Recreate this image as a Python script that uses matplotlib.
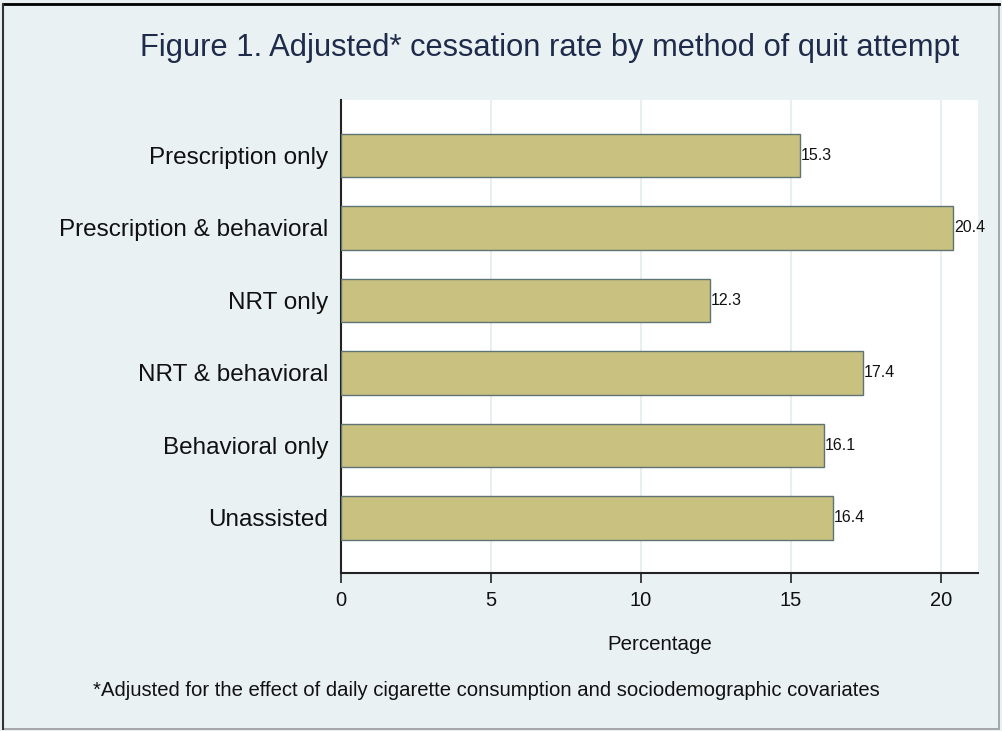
import matplotlib.pyplot as plt
from matplotlib.patches import Rectangle

methods = ['Prescription only', 'Prescription & behavioral', 'NRT only',
           'NRT & behavioral', 'Behavioral only', 'Unassisted']
rates = [15.3, 20.4, 12.3, 17.4, 16.1, 16.4]
xticks = [0, 5, 10, 15, 20]

bg = '#EAF1F3'
plt.rcParams['font.family'] = ['Liberation Sans', 'DejaVu Sans']

fig = plt.figure(figsize=(10.02, 7.31), dpi=100, facecolor=bg)
ax = fig.add_axes([0.3403, 0.2161, 0.976 - 0.3403, 0.863 - 0.2161])
ax.set_facecolor('white')

ypos = list(range(len(methods)))
ax.barh(ypos, rates, height=0.6, color='#C9C17F', edgecolor='#5E7474', linewidth=1.0, zorder=3)
for y, v in zip(ypos, rates):
    ax.text(v + 0.03, y, f'{v:.1f}', va='center', ha='left', fontsize=11.5, color='#111111', zorder=4)

ax.set_ylim(len(methods) - 1 + 0.76, -0.76)
ax.set_xlim(0, 21.23)
ax.set_yticks(ypos)
ax.set_yticklabels(methods, fontsize=17.5, color='#111111')
ax.set_xticks(xticks)
ax.set_xticklabels([str(t) for t in xticks], fontsize=14.5, color='#111111')
ax.tick_params(axis='y', length=0, pad=9)
ax.tick_params(axis='x', length=7, width=1.2, color='#222222', pad=6)
ax.xaxis.grid(True, color='#E3ECEF', linewidth=1.2, zorder=0)
ax.set_axisbelow(True)

for s in ['top', 'right']:
    ax.spines[s].set_visible(False)
for s in ['left', 'bottom']:
    ax.spines[s].set_color('#222222')
    ax.spines[s].set_linewidth(1.5)

ax.set_xlabel('Percentage', fontsize=14.8, color='#111111', labelpad=18)

fig.text(0.549, 0.935, 'Figure 1. Adjusted* cessation rate by method of quit attempt',
         ha='center', va='center', fontsize=22.2, color='#1F2B4A')
fig.text(0.093, 0.056, '*Adjusted for the effect of daily cigarette consumption and sociodemographic covariates',
         ha='left', va='center', fontsize=14.6, color='#111111')

# outer frame
fig.patches.append(Rectangle((0.003, 0.003), 0.994, 0.992, transform=fig.transFigure,
                             fill=False, edgecolor='#999999', linewidth=1.2))
fig.lines.append(plt.Line2D([0.003, 0.997], [0.995, 0.995], transform=fig.transFigure,
                            color='black', linewidth=2))
fig.lines.append(plt.Line2D([0.003, 0.003], [0.003, 0.995], transform=fig.transFigure,
                            color='#333333', linewidth=1.5))

fig.savefig('out.png', dpi=100, facecolor=bg)
